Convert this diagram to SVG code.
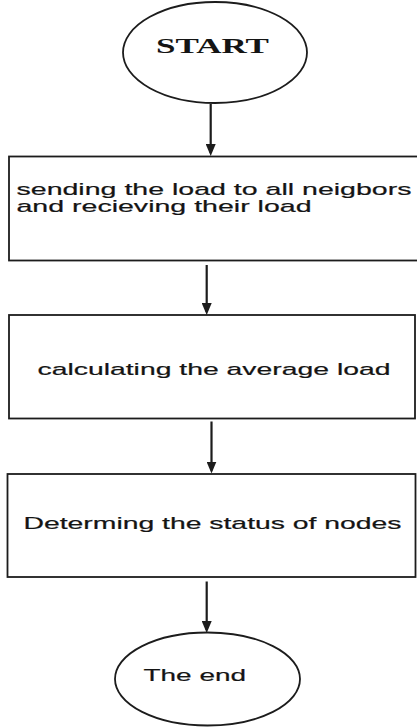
<svg xmlns="http://www.w3.org/2000/svg" width="417" height="727" viewBox="0 0 417 727">
  <style>
    .shape { fill: #ffffff; stroke: #1c1c1c; stroke-width: 1.8; }
    .conn { stroke: #1c1c1c; stroke-width: 2.2; fill: none; }
    .label { font-family: "Liberation Sans", Arial, sans-serif; font-size: 17px; fill: #141414; stroke: #141414; stroke-width: 0.2; }
    .title { font-family: "Liberation Serif", "Times New Roman", serif; font-size: 20px; font-weight: bold; fill: #141414; }
  </style>
  <defs>
    <marker id="arrow" viewBox="0 0 12 10" refX="9" refY="5" markerWidth="12" markerHeight="10" markerUnits="userSpaceOnUse" orient="auto">
      <path d="M0,0 L12,5 L0,10 z" fill="#1c1c1c"/>
    </marker>
  </defs>

  <rect width="417" height="727" fill="#ffffff"/>

  <!-- start terminal -->
  <g id="start">
    <ellipse class="shape" cx="215" cy="52.5" rx="92" ry="50.5"/>
    <text class="title" x="156" y="52.5" textLength="113" lengthAdjust="spacingAndGlyphs">START</text>
  </g>

  <!-- step 1 -->
  <g id="send-load">
    <rect class="shape" x="9" y="156.5" width="412" height="104"/>
    <text class="label" x="16.5" y="195" textLength="395" lengthAdjust="spacingAndGlyphs">sending the load to all neigbors</text>
    <text class="label" x="16.5" y="211.5" textLength="295" lengthAdjust="spacingAndGlyphs">and recieving their load</text>
  </g>

  <!-- step 2 -->
  <g id="average-load">
    <rect class="shape" x="9" y="315" width="406" height="103.5"/>
    <text class="label" x="37.5" y="375" textLength="353" lengthAdjust="spacingAndGlyphs">calculating the average load</text>
  </g>

  <!-- step 3 -->
  <g id="node-status">
    <rect class="shape" x="7.5" y="474" width="408" height="103"/>
    <text class="label" x="23.5" y="528.5" textLength="378" lengthAdjust="spacingAndGlyphs">Determing the status of nodes</text>
  </g>

  <!-- end terminal -->
  <g id="end">
    <ellipse class="shape" cx="207.5" cy="679" rx="92.5" ry="46.5"/>
    <text class="label" x="143.5" y="680.5" textLength="102.5" lengthAdjust="spacingAndGlyphs">The end</text>
  </g>

  <!-- connectors -->
  <g id="connectors">
    <line class="conn" x1="210.7" y1="104" x2="210.7" y2="153" marker-end="url(#arrow)"/>
    <line class="conn" x1="206.7" y1="265" x2="206.7" y2="312" marker-end="url(#arrow)"/>
    <line class="conn" x1="211.5" y1="421.5" x2="211.5" y2="470.5" marker-end="url(#arrow)"/>
    <line class="conn" x1="206.7" y1="581.5" x2="206.7" y2="630" marker-end="url(#arrow)"/>
  </g>
</svg>
